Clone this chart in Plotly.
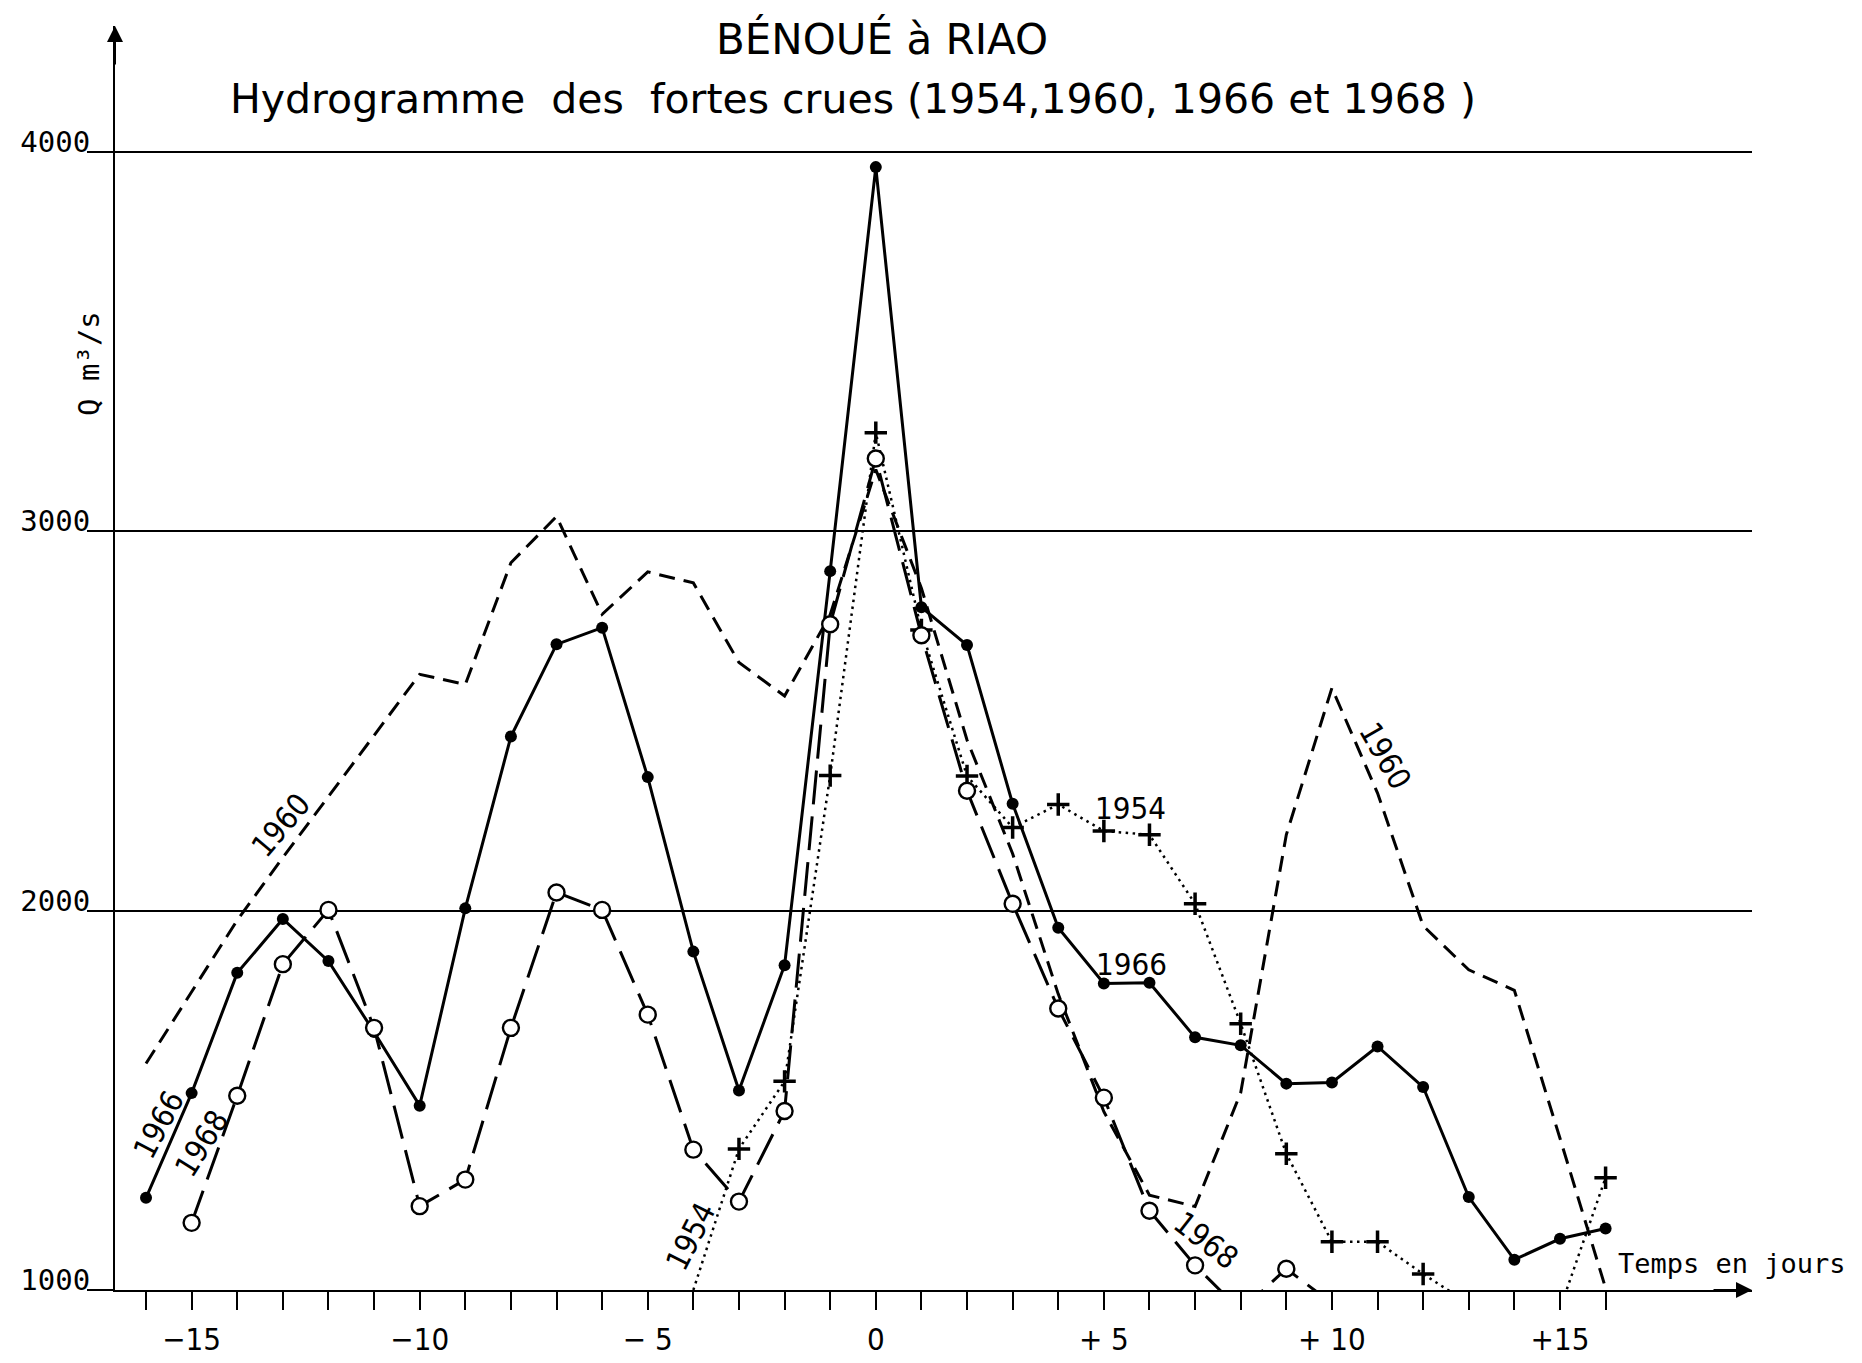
import plotly.graph_objects as go

# ---------------- data ----------------
days_all = list(range(-16, 17))
days_1968 = list(range(-15, 11))
days_1954 = list(range(-4, 17))

q1966 = [1243, 1519, 1836, 1978, 1867, 1680, 1486, 2006, 2459, 2702, 2746,
         2352, 1892, 1526, 1856, 2895, 3960, 2800, 2700, 2282, 1955, 1808,
         1810, 1666, 1645, 1544, 1547, 1642, 1535, 1245, 1080, 1135, 1162]

q1968 = [1177, 1512, 1859, 2002, 1691, 1221, 1291, 1691, 2048, 2002, 1726,
         1370, 1233, 1472, 2755, 3192, 2726, 2316, 2018, 1742, 1507, 1209,
         1065, 945, 1056, 965]

q1960 = [1597, 1785, 1975, 2140, 2300, 2460, 2623, 2596, 2917, 3039, 2781,
         2893, 2864, 2654, 2566, 2780, 3163, 2850, 2450, 2150, 1780, 1470,
         1250, 1220, 1520, 2200, 2587, 2310, 1960, 1844, 1790, 1400, 1005]

q1954 = [1000, 1372, 1550, 2356, 3260, 2740, 2355, 2219, 2280, 2210, 2200,
         2018, 1702, 1359, 1127, 1127, 1042, 965, None, 950, 1296]

y_ticks = [1000, 2000, 3000, 4000]
x_tick_days = list(range(-16, 17))
x_tick_labels = {-15: "\u221215", -10: "\u221210", -5: "\u2212 5", 0: "0",
                 5: "+ 5", 10: "+ 10", 15: "+15"}

title_1 = "BÉNOUÉ à RIAO"
title_2 = "Hydrogramme  des  fortes crues (1954,1960, 1966 et 1968 )"

# ---------------- styling ----------------
COND = "DejaVu Sans Condensed, Liberation Sans Narrow, DejaVu Sans, sans-serif"
MONO = "DejaVu Sans Mono, monospace"
SANS = "DejaVu Sans, sans-serif"
INK = "#000000"

fig = go.Figure()

fig.add_trace(go.Scatter(
    x=days_all, y=q1960, mode="lines", name="1960",
    line=dict(color=INK, width=3, dash="16px,9px")))

# 1954: dotted line, then its "+" markers as a separate layer
fig.add_trace(go.Scatter(
    x=days_1954, y=q1954, mode="lines", name="1954",
    connectgaps=False,
    line=dict(color=INK, width=2.5, dash="2.5px,4.5px")))
fig.add_trace(go.Scatter(
    x=days_1954, y=q1954, mode="markers", name="1954 points",
    marker=dict(symbol="cross-thin", color=INK, opacity=1,
                size=[0 if (v is None or v <= 1000) else 16 for v in q1954],
                line=dict(color=INK, width=3.5))))

fig.add_trace(go.Scatter(
    x=days_all, y=q1966, mode="lines+markers", name="1966",
    line=dict(color=INK, width=3),
    marker=dict(symbol="circle", color=INK, size=12)))

fig.add_trace(go.Scatter(
    x=days_1968, y=q1968, mode="lines+markers", name="1968",
    line=dict(color=INK, width=3, dash="34px,12px"),
    marker=dict(symbol="circle", color="white", size=16,
                line=dict(color=INK, width=2.4))))

# ---------------- annotations ----------------
ann = []
labels = [
    ("1966", -15.72, 1437, -62),
    ("1968", -14.78, 1387, -58),
    ("1960", -13.05, 2226, -50),
    ("1954", -4.06, 1142, -63),
    ("1954", 5.59, 2271, 0),
    ("1966", 5.61, 1860, 0),
    ("1968", 7.24, 1132, 38),
    ("1960", 11.18, 2408, 60),
]
for txt, xx, yy, ang in labels:
    ann.append(dict(text=txt, x=xx, y=yy, xref="x", yref="y", showarrow=False,
                    xanchor="center", yanchor="middle",
                    textangle=ang, font=dict(family=COND, size=31, color=INK)))

ann += [
    dict(text=title_1, x=0.4686, y=0.9897, xref="paper", yref="paper",
         xanchor="center", yanchor="middle",
         showarrow=False, font=dict(family=SANS, size=42, color=INK)),
    dict(text=title_2, x=0.4508, y=0.9422, xref="paper", yref="paper",
         xanchor="center", yanchor="middle",
         showarrow=False, font=dict(family=SANS, size=41, color=INK)),
    dict(text="Temps en jours", x=0.988, y=0.021, xref="paper", yref="paper",
         xanchor="center", yanchor="middle",
         showarrow=False, font=dict(family=MONO, size=27, color=INK)),
    dict(text="Q m\u00b3/s", x=-0.0159, y=0.7334, xref="paper", yref="paper",
         xanchor="center", yanchor="middle",
         showarrow=False, textangle=-90,
         font=dict(family=MONO, size=29, color=INK)),
    # axis arrowheads
    dict(text="", x=0, y=1, xref="paper", yref="paper", ax=0, ay=40,
         showarrow=True, arrowhead=2, arrowsize=1.6, arrowwidth=2,
         arrowcolor=INK),
    dict(text="", x=1, y=0, xref="paper", yref="paper", ax=-40, ay=0,
         showarrow=True, arrowhead=2, arrowsize=1.6, arrowwidth=2,
         arrowcolor=INK),
]

fig.update_layout(
    width=1854, height=1355,
    margin=dict(l=107, r=110, t=18, b=73, autoexpand=False),
    paper_bgcolor="white", plot_bgcolor="white",
    showlegend=False,
    annotations=ann,
    xaxis=dict(
        range=[-16.68, 19.21], showgrid=False, zeroline=False,
        automargin=False,
        showline=True, linecolor=INK, linewidth=2,
        ticks="outside", ticklen=18, tickwidth=2, tickcolor=INK,
        tickvals=x_tick_days,
        ticktext=[x_tick_labels.get(d, "") for d in x_tick_days],
        tickfont=dict(family=COND, size=31, color=INK),
        ticklabelstandoff=3,
    ),
    yaxis=dict(
        range=[1000, 4332], zeroline=False, automargin=False,
        showgrid=True, gridcolor=INK, gridwidth=1.6,
        showline=True, linecolor=INK, linewidth=2,
        ticks="outside", ticklen=26, tickwidth=1.6, tickcolor=INK,
        tickvals=y_ticks, ticktext=[str(v) for v in y_ticks],
        tickfont=dict(family=MONO, size=29, color=INK),
        ticklabelshift=-10, ticklabelstandoff=-9,
    ),
)

fig.write_html("out.html")
